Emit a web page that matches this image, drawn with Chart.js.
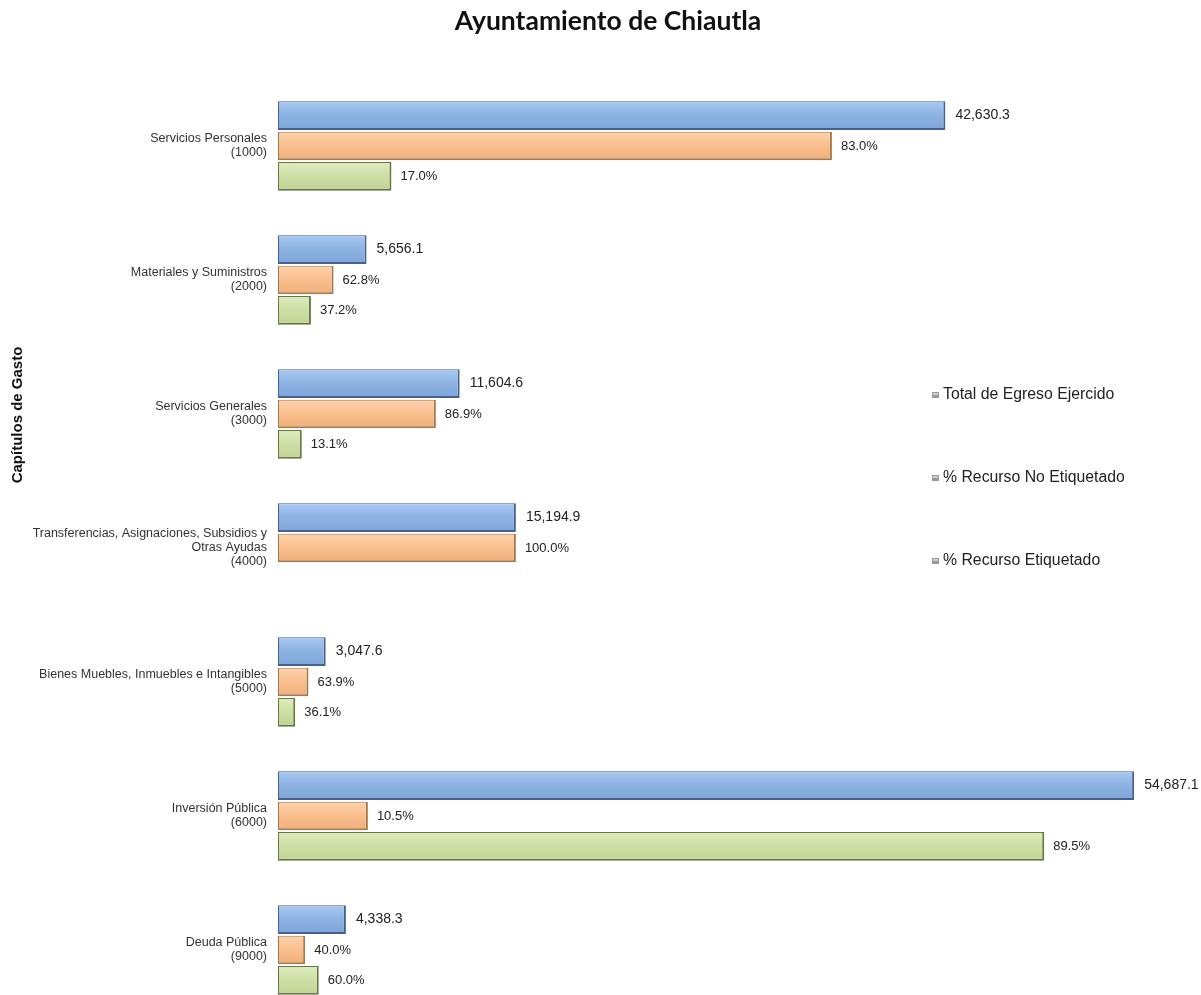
<!DOCTYPE html>
<html>
<head>
<meta charset="utf-8">
<script src="https://cdn.jsdelivr.net/npm/chart.js@4.4.1/dist/chart.umd.min.js"></script>
<style>
  html, body { margin: 0; padding: 0; background: #fff; overflow: hidden; }
  #myChart { display: block; width: 1201px; height: 1017px; }
</style>
</head>
<body>
<canvas id="myChart" width="1201" height="1017"></canvas>
<script>
// Datos del gráfico
const categorias = [
    ["Servicios Personales", "(1000)"],
    ["Materiales y Suministros", "(2000)"],
    ["Servicios Generales", "(3000)"],
    ["Transferencias, Asignaciones, Subsidios y", "Otras Ayudas", "(4000)"],
    ["Bienes Muebles, Inmuebles e Intangibles", "(5000)"],
    ["Inversión Pública", "(6000)"],
    ["Deuda Pública", "(9000)"]
];
const totalEgreso = [42630.3, 5656.1, 11604.6, 15194.9, 3047.6, 54687.1, 4338.3];
const pctNoEtiquetado = [83.0, 62.8, 86.9, 100.0, 63.9, 10.5, 40.0];
const pctEtiquetado = [17.0, 37.2, 13.1, null, 36.1, 89.5, 60.0];
const nombresSeries = ["Total de Egreso Ejercido", "% Recurso No Etiquetado", "% Recurso Etiquetado"];
const titulo = "Ayuntamiento de Chiautla";
const tituloEje = "Capítulos de Gasto";

// las barras de porcentaje se dibujan como parte del total
const montoNoEtiquetado = totalEgreso.map((t, i) => pctNoEtiquetado[i] == null ? null : t * pctNoEtiquetado[i] / 100);
const montoEtiquetado = totalEgreso.map((t, i) => pctEtiquetado[i] == null ? null : t * pctEtiquetado[i] / 100);

// colores: arriba claro, base, abajo oscuro, borde
const colores = [
    ["#aac9f0", "#8db4e3", "#7ea5d8", "#44618f"],
    ["#fdd3ad", "#fac08f", "#eeb07c", "#a4784c"],
    ["#deecbf", "#cfe0a6", "#bfd293", "#66783f"]
];

const fmtMonto = v => v.toLocaleString("en-US", { minimumFractionDigits: 1, maximumFractionDigits: 1 });
const fmtPct = v => v.toFixed(1) + "%";
const fuente = "'Liberation Sans', Arial, sans-serif";

// degradado vertical en cada barra
const degradado = {
    id: "degradado",
    beforeDatasetsDraw(chart) {
        const ctx = chart.ctx;
        chart.data.datasets.forEach((ds, di) => {
            chart.getDatasetMeta(di).data.forEach(bar => {
                const arriba = bar.y - bar.height / 2;
                const g = ctx.createLinearGradient(0, arriba, 0, arriba + bar.height);
                g.addColorStop(0, colores[di][0]);
                g.addColorStop(0.45, colores[di][1]);
                g.addColorStop(1, colores[di][2]);
                bar.options.backgroundColor = g;
            });
        });
    }
};

// etiquetas al final de cada barra
const etiquetasBarras = {
    id: "etiquetasBarras",
    afterDatasetsDraw(chart) {
        const ctx = chart.ctx;
        ctx.save();
        ctx.textBaseline = "middle";
        ctx.textAlign = "left";
        ctx.fillStyle = "#222";
        chart.data.datasets.forEach((ds, di) => {
            const meta = chart.getDatasetMeta(di);
            meta.data.forEach((bar, i) => {
                if (di === 0) {
                    ctx.font = "14px " + fuente;
                    ctx.fillText(fmtMonto(totalEgreso[i]), bar.x + 10, bar.y);
                } else {
                    const p = di === 1 ? pctNoEtiquetado[i] : pctEtiquetado[i];
                    if (p == null) return;
                    ctx.font = "13px " + fuente;
                    ctx.fillText(fmtPct(p), bar.x + 9, bar.y);
                }
            });
        });
        ctx.restore();
    }
};

// título, título del eje y leyenda
const textos = {
    id: "textos",
    afterDraw(chart) {
        const ctx = chart.ctx;
        ctx.save();
        ctx.fillStyle = "#111";
        ctx.textAlign = "center";
        ctx.textBaseline = "middle";
        ctx.font = "bold 26.5px Lato, 'Open Sans', sans-serif";
        ctx.fillText(titulo, 608, 21);

        ctx.save();
        ctx.translate(18, 415);
        ctx.rotate(-Math.PI / 2);
        ctx.font = "bold 15px " + fuente;
        ctx.fillText(tituloEje, 0, 0);
        ctx.restore();

        ctx.font = "15.8px " + fuente;
        ctx.textAlign = "left";
        nombresSeries.forEach((nombre, i) => {
            const y = 395 + i * 83;
            ctx.fillStyle = "#9a9a9a";
            ctx.fillRect(932, y - 3, 7, 6);
            ctx.fillStyle = "#cfcfcf";
            ctx.fillRect(933, y - 2, 5, 2);
            ctx.fillStyle = "#222";
            ctx.fillText(nombre, 943, y);
        });
        ctx.restore();
    }
};

const comunes = {
    borderWidth: { top: 1, left: 1, bottom: 2, right: 2 },
    borderSkipped: false,
    barPercentage: 0.94,
    categoryPercentage: 0.68
};

const ctx = document.getElementById("myChart").getContext("2d");
new Chart(ctx, {
    type: "bar",
    data: {
        labels: categorias,
        datasets: [
            { label: nombresSeries[0], data: totalEgreso, backgroundColor: () => colores[0][1], borderColor: colores[0][3], ...comunes },
            { label: nombresSeries[1], data: montoNoEtiquetado, backgroundColor: () => colores[1][1], borderColor: colores[1][3], ...comunes },
            { label: nombresSeries[2], data: montoEtiquetado, backgroundColor: () => colores[2][1], borderColor: colores[2][3], ...comunes }
        ]
    },
    options: {
        indexAxis: "y",
        responsive: false,
        animation: false,
        layout: { padding: { left: 0, right: 15, top: 79, bottom: 0 } },
        plugins: {
            legend: { display: false },
            tooltip: { enabled: false },
            title: { display: false }
        },
        scales: {
            x: {
                display: false,
                min: 0,
                max: 58000
            },
            y: {
                grid: { display: false, drawTicks: false },
                border: { display: false },
                ticks: {
                    color: "#333",
                    padding: 11,
                    font: { family: fuente, size: 12.5, lineHeight: 1.12 }
                },
                afterFit(scale) {
                    scale.width = 278;
                    scale.paddingTop = 0;
                    scale.paddingBottom = 0;
                }
            }
        }
    },
    plugins: [degradado, etiquetasBarras, textos]
});
</script>
</body>
</html>
